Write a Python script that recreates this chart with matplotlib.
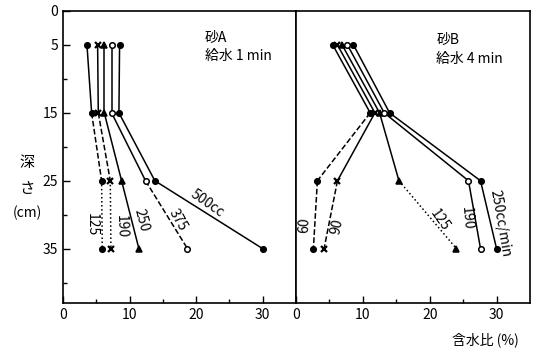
import matplotlib
matplotlib.use("Agg")
import matplotlib.pyplot as plt
from matplotlib.ticker import FixedLocator

plt.rcParams['font.family'] = ['Noto Sans CJK JP', 'DejaVu Sans']

depths = [5, 15, 25, 35]

# Sand A (給水 1 min)
a_names = ["125", "190", "250", "375", "500cc"]
a_values = [
    [3.6, 4.3, 5.8, 5.9],
    [5.2, 5.3, 7.1, 7.2],
    [6.2, 6.2, 8.8, 11.4],
    [7.3, 7.3, 12.4, 18.7],
    [8.5, 8.4, 13.8, 30.0],
]
a_markers = ["o", "x", "^", "o", "o"]
a_faces = ["black", "black", "black", "white", "black"]
a_styles = [["-", "--", ":"], ["-", "--", ":"], ["-", "-", "-"], ["-", "-", "--"], ["-", "-", "-"]]

# Sand B (給水 4 min)
b_names = ["60", "90", "125", "190", "250cc/min"]
b_values = [
    [5.5, 11.1, 3.2, 2.6],
    [6.2, 11.8, 6.2, 4.2],
    [6.9, 12.5, 15.4, 24.0],
    [7.7, 13.2, 25.8, 27.6],
    [8.6, 14.0, 27.6, 30.0],
]
b_markers = ["o", "x", "^", "o", "o"]
b_faces = ["black", "black", "black", "white", "black"]
b_styles = [["-", "--", "--"], ["-", "-", "--"], ["-", "-", ":"], ["-", "-", "-"], ["-", "-", "-"]]

fig = plt.figure(figsize=(5.33, 3.53), dpi=100)
axA = fig.add_axes([63/533, 50/353, 233/533, 292/353])
axB = fig.add_axes([296/533, 50/353, 234/533, 292/353])


def draw(ax, values, markers, faces, styles):
    for vals, m, fc, st in zip(values, markers, faces, styles):
        for i in range(len(depths) - 1):
            ax.plot(vals[i:i+2], depths[i:i+2], color="black", lw=1.1, linestyle=st[i])
        ms = 4 if m == "o" else (4 if m == "^" else 4.5)
        ax.plot(vals, depths, linestyle="none", marker=m, markersize=ms,
                markerfacecolor=fc, markeredgecolor="black",
                markeredgewidth=1.1 if m != "x" else 1.6)


draw(axA, a_values, a_markers, a_faces, a_styles)
draw(axB, b_values, b_markers, b_faces, b_styles)

for ax in (axA, axB):
    ax.set_xlim(0, 35)
    ax.set_ylim(43, 0)
    ax.xaxis.set_major_locator(FixedLocator([0, 10, 20, 30]))
    ax.xaxis.set_minor_locator(FixedLocator([5, 15, 25]))
    ax.tick_params(axis="both", which="both", direction="in", labelsize=10)
    ax.tick_params(axis="both", which="major", length=5, width=1)
    ax.tick_params(axis="both", which="minor", length=3, width=1)
    ax.tick_params(axis="y", which="both", left=True, right=False)
    ax.tick_params(axis="x", which="both", top=False)
    for s in ax.spines.values():
        s.set_linewidth(1.2)

axA.yaxis.set_major_locator(FixedLocator([0, 5, 15, 25, 35]))
axA.yaxis.set_minor_locator(FixedLocator([10, 20, 30, 40]))
axB.yaxis.set_major_locator(FixedLocator([]))
axB.yaxis.set_minor_locator(FixedLocator([]))
axB.tick_params(axis="y", which="both", left=False, labelleft=False)

axA.text(0.61, 0.91, "砂A", transform=axA.transAxes, fontsize=10, va="center")
axA.text(0.61, 0.845, "給水 1 min", transform=axA.transAxes, fontsize=10, va="center")
axB.text(0.6, 0.905, "砂B", transform=axB.transAxes, fontsize=10, va="center")
axB.text(0.6, 0.835, "給水 4 min", transform=axB.transAxes, fontsize=10, va="center")

# curve labels (data coords)
a_label_pos = [(4.3, 31.4, -90), (8.8, 31.7, -88), (11.8, 30.8, -75), (17.3, 30.8, -60), (21.6, 28.4, -35)]
for name, (x, y, r) in zip(a_names, a_label_pos):
    axA.text(x, y, name, rotation=r, ha="center", va="center", fontsize=10, rotation_mode="anchor")

b_label_pos = [(1.3, 31.5, 88), (6.1, 31.7, 78), (21.5, 30.8, -55), (25.5, 30.5, -85), (30.6, 31.2, -80)]
for name, (x, y, r) in zip(b_names, b_label_pos):
    axB.text(x, y, name, rotation=r, ha="center", va="center", fontsize=10, rotation_mode="anchor")

fig.text(27/533, 1 - 162/353, "深", ha="center", va="center", fontsize=11,
         family=["Noto Sans CJK SC", "DejaVu Sans"])
fig.text(27/533, 1 - 188/353, "さ", ha="center", va="center", fontsize=11,
         family=["Noto Sans CJK SC", "DejaVu Sans"])
fig.text(27/533, 1 - 213/353, "(cm)", ha="center", va="center", fontsize=10)
fig.text(485/533, 1 - 340/353, "含水比 (%)", ha="center", va="center", fontsize=10)

fig.savefig("out.png", dpi=100)
